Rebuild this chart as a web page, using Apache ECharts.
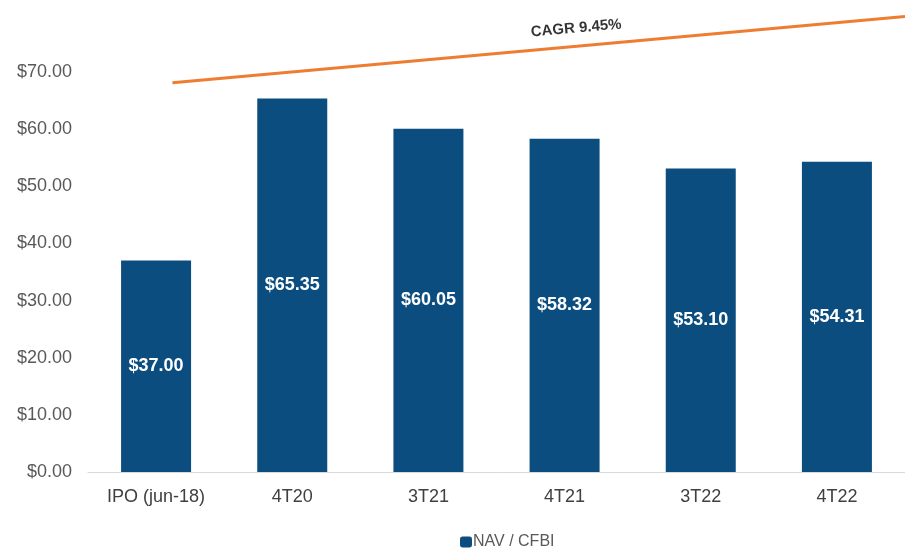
<!DOCTYPE html>
<html>
<head>
<meta charset="utf-8">
<script src="https://cdn.jsdelivr.net/npm/echarts@6/dist/echarts.min.js"></script>
<style>html,body{margin:0;padding:0;background:#fff;}#c{width:905px;height:557px;}</style>
</head>
<body>
<div id="c"></div>
<script>
const categories = ['IPO (jun-18)', '4T20', '3T21', '4T21', '3T22', '4T22'];
const navValues = [37.00, 65.35, 60.05, 58.32, 53.10, 54.31];
const seriesName = 'NAV / CFBI';
// trend line (position along category index, value)
const trendX = [0.62, 3.59, 6.0];
const trendY = [68.1, 74.5, 79.7];
const trendLabel = 'CAGR 9.45%';

const chart = echarts.init(document.getElementById('c'));
const FONT = '"Liberation Sans", Arial, sans-serif';
chart.setOption({
  animation: false,
  backgroundColor: '#ffffff',
  grid: { left: 88, right: -7, top: 72, height: 400 },
  xAxis: [
    {
      type: 'category', data: categories,
      axisLine: { show: true, lineStyle: { color: '#d9d9d9', width: 1 } },
      axisTick: { show: false },
      axisLabel: { color: '#404040', fontSize: 18, fontFamily: FONT, margin: 16 }
    },
    { type: 'value', min: 0, max: 6, show: false }
  ],
  yAxis: {
    type: 'value', min: 0, max: 70, interval: 10,
    axisLine: { show: false }, axisTick: { show: false },
    splitLine: { show: false },
    axisLabel: {
      color: '#595959', fontSize: 18, fontFamily: FONT, margin: 16,
      formatter: v => '$' + v.toFixed(2)
    }
  },
  legend: {
    bottom: 2, left: 455,
    data: [seriesName],
    itemWidth: 12, itemHeight: 11, itemGap: 4,
    textStyle: { color: '#595959', fontSize: 16, fontFamily: FONT, padding: [0, 0, 0, -4] }
  },
  series: [
    {
      name: seriesName, type: 'bar', data: navValues,
      xAxisIndex: 0,
      barWidth: 70,
      itemStyle: { color: '#0B4D7E' },
      label: {
        show: true, position: 'inside', color: '#ffffff', fontSize: 18,
        fontWeight: 'bold', fontFamily: FONT,
        formatter: p => '$' + p.value.toFixed(2)
      }
    },
    {
      name: 'trend', type: 'line', xAxisIndex: 1,
      data: trendX.map((x, i) => [x, trendY[i]]),
      clip: false, symbol: 'none', showSymbol: false,
      lineStyle: { color: '#ED7D31', width: 3 }
    },
    {
      name: 'trendLabel', type: 'scatter', xAxisIndex: 1,
      data: [[trendX[1], trendY[1]]],
      clip: false, symbol: 'circle', symbolSize: 1,
      itemStyle: { color: 'rgba(0,0,0,0)' },
      label: {
        show: true, position: 'top', distance: 10, rotate: 5,
        formatter: trendLabel, color: '#000000', fontSize: 15, fontWeight: 'bold',
        fontFamily: FONT
      }
    }
  ]
});
</script>
</body>
</html>
